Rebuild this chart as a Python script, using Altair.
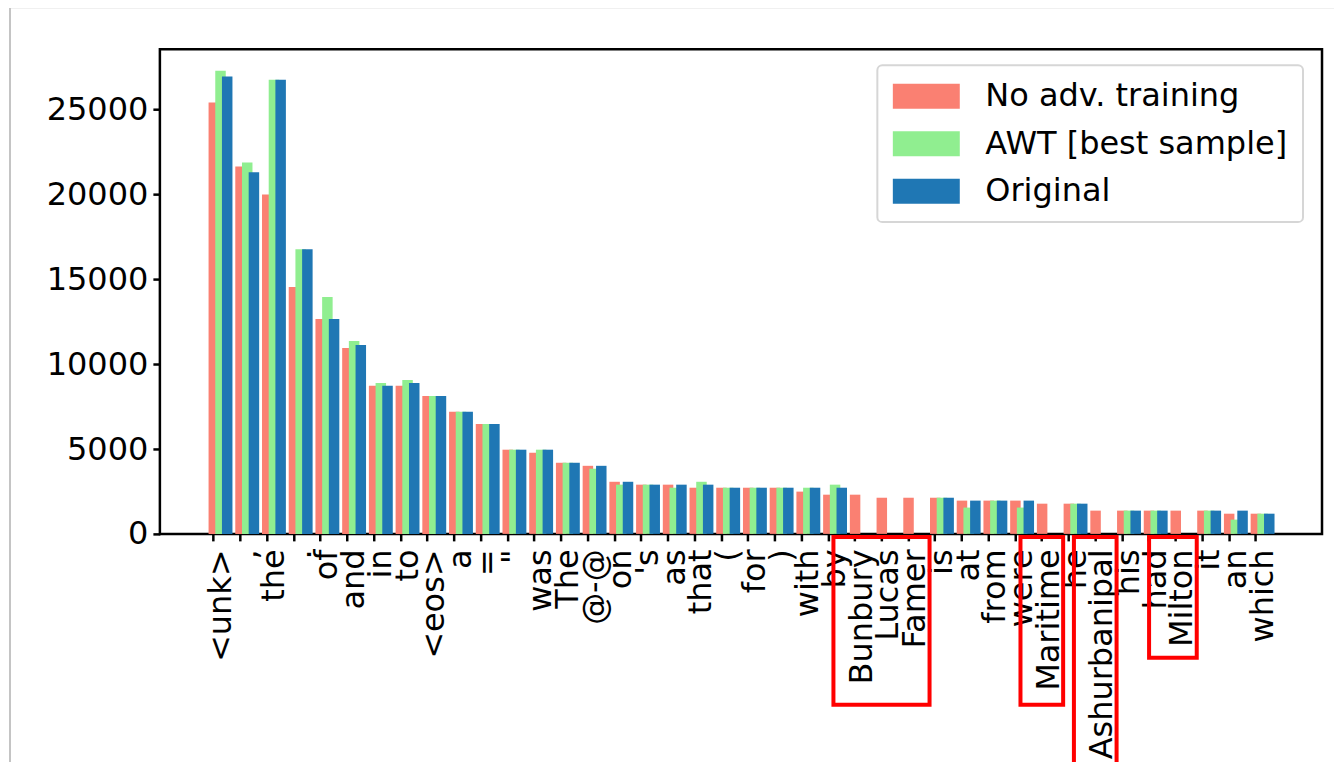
import altair as alt
import pandas as pd

labels = ["<unk>", ",", "the", ".", "of", "and", "in", "to", "<eos>", "a", "=", "\"",
          "was", "The", "@-@", "on", "'s", "as", "that", "(", "for", ")", "with", "by",
          "Bunbury", "Lucas", "Famer", "is", "at", "from", "were", "Maritime", "he",
          "Ashurbanipal", "his", "had", "Milton", "it", "an", "which"]

no_adv = [25410, 21650, 20000, 14540, 12660, 10950, 8720, 8720, 8130, 7190, 6480, 4960,
          4780, 4190, 4010, 3070, 2900, 2900, 2720, 2720, 2720, 2720, 2490, 2310,
          2310, 2130, 2130, 2130, 1960, 1960, 1960, 1780, 1780,
          1370, 1370, 1370, 1370, 1370, 1190, 1190]
awt = [27290, 21880, 26760, 16770, 13950, 11360, 8890, 9070, 8130, 7190, 6480, 4960,
       4960, 4190, 3840, 2900, 2900, 2720, 3070, 2720, 2720, 2720, 2720, 2900,
       None, None, None, 2130, 1550, 1960, 1550, None, 1780,
       None, 1370, 1370, None, 1370, 840, 1190]
original = [26940, 21300, 26760, 16770, 12660, 11130, 8720, 8890, 8130, 7190, 6480, 4960,
            4960, 4190, 4010, 3070, 2900, 2900, 2900, 2720, 2720, 2720, 2720, 2720,
            None, None, None, 2130, 1960, 1960, 1960, None, 1780,
            None, 1370, 1370, None, 1370, 1370, 1190]

series_names = ["No adv. training", "AWT [best sample]", "Original"]
series_colors = ["#FA8072", "#90EE90", "#1F77B4"]
y_ticks = [0, 5000, 10000, 15000, 20000, 25000]

ann_start = ["Bunbury", "Maritime", "Ashurbanipal", "Milton"]
ann_end = ["Famer", "Maritime", "Ashurbanipal", "Milton"]

rows = []
for name, vals in zip(series_names, [no_adv, awt, original]):
    for lab, v in zip(labels, vals):
        if v is not None:
            rows.append({"label": lab, "series": name, "value": v})
df = pd.DataFrame(rows)
ann_df = pd.DataFrame({"start": ann_start, "end": ann_end})

FONT = "DejaVu Sans"
W, H = 1163, 485
offset = 6.7
bar_w = 10.5

xscale = alt.Scale(domain=labels, range=[47.3, 1116.9], paddingInner=0, paddingOuter=0)
yscale = alt.Scale(domain=[0, 28550], nice=False, zero=True)
cscale = alt.Scale(domain=series_names, range=series_colors)

x_axis = alt.Axis(title=None, labelAngle=270, labelFontSize=32, labelFont=FONT,
                  labelColor="black", tickColor="black", tickWidth=2.5, tickSize=7,
                  labelPadding=8, domain=False, bandPosition=0.25,
                  labelOverlap=False, labelLimit=500, labelAlign="right",
                  labelBaseline="middle")
y_axis = alt.Axis(title=None, values=y_ticks, format="d", labelFontSize=32,
                  labelFont=FONT, labelColor="black", tickColor="black",
                  tickWidth=2.5, tickSize=7, labelPadding=5, domain=False, grid=False)
legend = alt.Legend(title=None, orient="none", legendX=718, legendY=16,
                    labelFontSize=32, labelFont=FONT, labelColor="black",
                    symbolType="M-1.24,-1H4.12V1H-1.24Z", symbolSize=625,
                    symbolStrokeWidth=0, symbolOpacity=1,
                    fillColor="white", strokeColor="#d6d6d6", cornerRadius=5,
                    padding=15, rowPadding=15.5, labelOffset=61, labelLimit=600)

base = alt.Chart(df)


def bars(name, dx):
    return base.transform_filter(alt.datum.series == name).mark_bar(
        width=bar_w, xOffset=dx
    ).encode(
        x=alt.X("label:N", scale=xscale, axis=x_axis, sort=labels),
        y=alt.Y("value:Q", scale=yscale, axis=y_axis),
        color=alt.Color("series:N", scale=cscale, legend=legend),
    )


def box(start, bottom, left=-15):
    return alt.Chart(ann_df).transform_filter(alt.datum.start == start).mark_rect(
        filled=False, stroke="#ff0000", strokeWidth=4, xOffset=left, x2Offset=27.7
    ).encode(
        x=alt.X("start:N", scale=xscale, axis=x_axis, bandPosition=0),
        x2=alt.X2("end:N", bandPosition=0),
        y=alt.value(488),
        y2=alt.value(bottom),
    )


one = pd.DataFrame({"k": [0]})
border_left = alt.Chart(one).mark_rule(color="#c4c4c4", strokeWidth=2).encode(
    x=alt.value(-150), y=alt.value(-42), y2=alt.value(720))
border_top = alt.Chart(one).mark_rule(color="#c4c4c4", strokeWidth=2).encode(
    x=alt.value(-150), x2=alt.value(1190), y=alt.value(-42))

chart = alt.layer(
    bars(series_names[0], -offset),
    bars(series_names[1], 0),
    bars(series_names[2], offset),
    box("Bunbury", 656),
    box("Maritime", 656),
    box("Ashurbanipal", 740),
    box("Milton", 609, left=-20),
    border_left,
    border_top,
).properties(
    width=W, height=H,
    padding={"left": 152, "top": 41, "right": 12, "bottom": 228},
    autosize=alt.AutoSizeParams(type="none"),
).configure_view(
    stroke="black", strokeWidth=2.5
).configure_legend(strokeWidth=2)

chart.save("out.html", embed_options={"renderer": "svg", "actions": False})
